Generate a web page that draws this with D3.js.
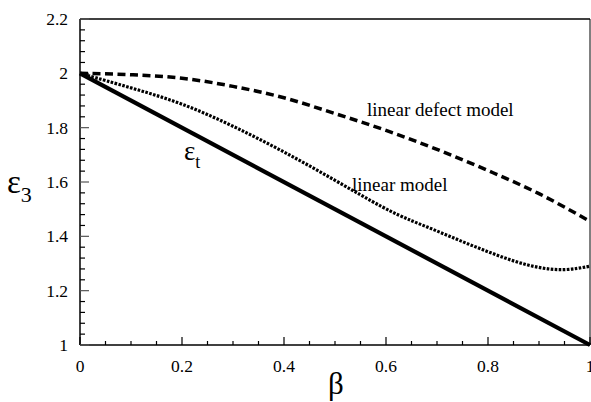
<!DOCTYPE html>
<html><head><meta charset="utf-8">
<script src="https://cdn.jsdelivr.net/npm/d3@7"></script>
<style>body{margin:0;background:#fff;font-family:'Liberation Serif',serif}svg{display:block}</style>
</head><body><svg id="c" width="591" height="402"></svg>
<script>
const betaDefect = [0,0.1,0.2,0.3,0.4,0.5,0.6,0.7,0.8,0.9,1.0];
const defectModel = [2.0,1.995,1.982,1.952,1.91,1.852,1.79,1.72,1.642,1.557,1.455];
const betaLinear = [0,0.1,0.2,0.3,0.4,0.5,0.6,0.65,0.7,0.75,0.8,0.85,0.9,0.95,1.0];
const linearModel = [2.0,1.947,1.891,1.807,1.712,1.607,1.498,1.457,1.42,1.38,1.343,1.308,1.283,1.273,1.29];
const tVals = [0,1];
const tLine = [2,1];
const xTicks = [0,0.2,0.4,0.6,0.8,1];
const xTickLabels = ["0","0.2","0.4","0.6","0.8","1"];
const yTicks = [1,1.2,1.4,1.6,1.8,2,2.2];
const yTickLabels = ["1","1.2","1.4","1.6","1.8","2","2.2"];

const FONT = "'Liberation Serif', serif";
const svg = d3.select("#c");
const x = d3.scaleLinear().domain([0,1]).range([80,590]);
const y = d3.scaleLinear().domain([1,2.2]).range([345,19]);
function txt(sel){ return sel.append("text").style("font-family",FONT).style("fill","#000"); }

// frame
svg.append("line").attr("x1",80).attr("x2",590).attr("y1",19).attr("y2",19).attr("stroke","#000").attr("stroke-width",1.5);
svg.append("line").attr("x1",590).attr("x2",590).attr("y1",19).attr("y2",345).attr("stroke","#000").attr("stroke-width",1);

// axes
const xAxis = svg.append("g").attr("transform","translate(0,345)");
xAxis.append("line").attr("x1",80).attr("x2",590).attr("stroke","#000").attr("stroke-width",1.5);
d3.range(0,20.5,1).forEach(k=>{
  const v = k*0.05;
  const major = k%4===0;
  xAxis.append("line").attr("x1",x(v)).attr("x2",x(v)).attr("y1",0).attr("y2",major?-8:-4).attr("stroke","#000").attr("stroke-width",1.2);
});
xTicks.forEach((v,i)=>{
  txt(xAxis).attr("x",x(v)).attr("y",27).attr("text-anchor","middle").style("font-size","17.5px").text(xTickLabels[i]);
});

const yAxis = svg.append("g").attr("transform","translate(80,0)");
yAxis.append("line").attr("y1",19).attr("y2",345).attr("stroke","#000").attr("stroke-width",1.5);
d3.range(0,30.5,1).forEach(k=>{
  const v = 1 + k*0.04;
  const major = k%5===0;
  yAxis.append("line").attr("x1",0).attr("x2",major?9:5).attr("y1",y(v)).attr("y2",y(v)).attr("stroke",major?"#555":"#000").attr("stroke-width",1.2);
});
yTicks.forEach((v,i)=>{
  txt(yAxis).attr("x",-12).attr("y",y(v)+6).attr("text-anchor","end").style("font-size","17.5px").text(yTickLabels[i]);
});

// lines
const line = d3.line().x(d=>x(d[0])).y(d=>y(d[1])).curve(d3.curveMonotoneX);
svg.append("path").datum(betaDefect.map((b,i)=>[b,defectModel[i]])).attr("d",line)
  .attr("fill","none").attr("stroke","#000").attr("stroke-width",3.5).attr("stroke-dasharray","8,4.5");
svg.append("path").datum(betaLinear.map((b,i)=>[b,linearModel[i]])).attr("d",d3.line().x(d=>x(d[0])).y(d=>y(d[1])).curve(d3.curveBasis))
  .attr("fill","none").attr("stroke","#000").attr("stroke-width",3.2).attr("stroke-dasharray","2.6,1.4");
svg.append("path").datum(tVals.map((b,i)=>[b,tLine[i]])).attr("d",d3.line().x(d=>x(d[0])).y(d=>y(d[1])))
  .attr("fill","none").attr("stroke","#000").attr("stroke-width",4.2);

// labels
txt(svg).attr("x",367).attr("y",116).style("font-size","19px").text("linear defect model");
txt(svg).attr("x",352).attr("y",191).style("font-size","19px").text("linear model");
const et = txt(svg).attr("x",184).attr("y",160).style("font-size","27px");
et.append("tspan").text("ε");
et.append("tspan").style("font-size","18px").attr("dy",8).text("t");
const e3 = txt(svg).attr("x",7).attr("y",193).style("font-size","33px");
e3.append("tspan").text("ε");
e3.append("tspan").style("font-size","22px").attr("dy",9).text("3");
txt(svg).attr("x",336).attr("y",394).attr("text-anchor","middle").style("font-size","31px").text("β");
</script></body></html>
